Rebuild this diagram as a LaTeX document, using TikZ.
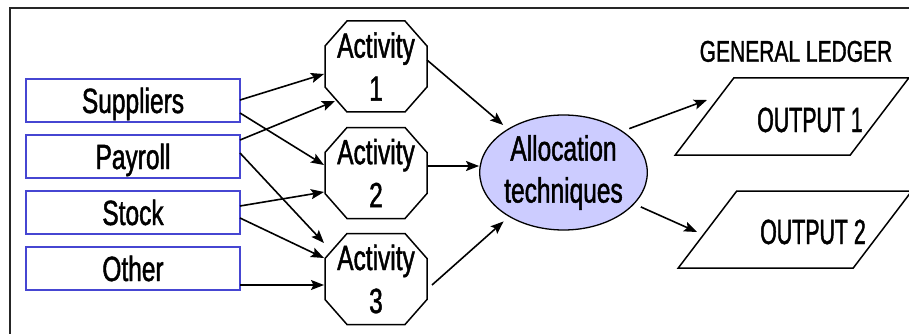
\documentclass[tikz,border=0pt]{standalone}
\usepackage{fontspec}
\setmainfont{Liberation Sans}[FakeStretch=0.7, FakeBold=1.3]
\newfontfamily\outfont{Liberation Sans}[FakeStretch=0.61, FakeBold=1.3]
\usetikzlibrary{arrows.meta,shapes.geometric,calc}

\definecolor{srcblue}{RGB}{70,70,210}
\definecolor{lavender}{RGB}{204,204,255}

\begin{document}
\begin{tikzpicture}[x=1pt,y=1pt,
  bigtext/.style={font=\fontsize{35}{43}\selectfont},
  srcbox/.style={draw=srcblue, line width=2pt, minimum width=214pt, minimum height=43pt,
    inner sep=0pt, outer sep=0pt, text height=25pt, text depth=0pt, bigtext},
  activity/.style={minimum width=102pt, minimum height=91pt, inner sep=0pt, outer sep=0pt,
    align=center, bigtext},
  octagon/.style={line width=1.5pt, line join=miter},
  alloc/.style={ellipse, draw, line width=1.3pt, fill=lavender, minimum width=167pt,
    minimum height=115pt, inner sep=0pt, align=center, font=\fontsize{35}{42}\selectfont},
  outbox/.style={minimum width=175pt, minimum height=77pt, inner sep=0pt, outer sep=0pt},
  outlabel/.style={inner sep=0pt, text height=25pt, text depth=0pt,
    font=\outfont\fontsize{35}{42}\selectfont},
  para/.style={line width=1.5pt, line join=miter},
  flow/.style={line width=1.6pt, -{Stealth[length=13pt,width=10pt,inset=2.5pt]}},
]
\useasboundingbox (0,0) rectangle (909,-334);
\begin{scope}
  \clip (0,0) rectangle (909,-334);
  % outer frame
  \draw[line width=1.6pt, black!85] (10,-8) rectangle (930,-360);
\end{scope}

% cost sources
\node[srcbox] (sup) at (133,-100.5) {Suppliers};
\node[srcbox] (pay) at (133,-156.5) {Payroll};
\node[srcbox] (sto) at (133,-212.5) {Stock};
\node[srcbox] (oth) at (133,-268.5) {Other};

% activities
\node[activity] (a1) at (376,-66.5) {Activity\\1};
\node[activity] (a2) at (376,-173) {Activity\\2};
\node[activity] (a3) at (376,-279) {Activity\\3};
\foreach \n in {a1,a2,a3}{
  \draw[octagon]
    ($(\n.north west)+(22,0)$) -- ($(\n.north east)+(-22,0)$) --
    ($(\n.north east)+(0,-25)$) -- ($(\n.south east)+(0,25)$) --
    ($(\n.south east)+(-22,0)$) -- ($(\n.south west)+(22,0)$) --
    ($(\n.south west)+(0,25)$) -- ($(\n.north west)+(0,-25)$) -- cycle;
}

% allocation
\node[alloc] (ell) at (563.5,-172.5) {Allocation\\techniques};

% outputs
\node[font=\fontsize{30}{36}\selectfont, inner sep=0pt, text height=21.5pt, text depth=0pt]
  (gl) at (796,-51) {GENERAL LEDGER};
\node[outbox] (o1) at (792,-116.5) {};
\node[outbox] (o2) at (795,-229.5) {};
\foreach \n in {o1,o2}{
  \draw[para]
    ($(\n.center)+(-58.25,38.5)$) -- ($(\n.center)+(116.75,38.5)$) --
    ($(\n.center)+(58.25,-38.5)$) -- ($(\n.center)+(-116.75,-38.5)$) -- cycle;
}
\node[outlabel] (t1) at (810,-119.5) {OUTPUT 1};
\node[outlabel] (t2) at (813,-231.5) {OUTPUT 2};

% sources to activities
\draw[flow] ([yshift=0.5pt]sup.east) -- ([shift={(-1pt,-7.5pt)}]a1.west);
\draw[flow] ([yshift=-12.5pt]sup.east) -- ([shift={(-1pt,8pt)}]a2.west);
\draw[flow] ([yshift=16.5pt]pay.east) -- ([shift={(-41pt,-34.5pt)}]a1.center);
\draw[flow] ([yshift=3.5pt]pay.east) -- ([shift={(-1pt,36pt)}]a3.west);
\draw[flow] ([yshift=6.5pt]sto.east) -- ([shift={(-1pt,-19pt)}]a2.west);
\draw[flow] ([yshift=-5.5pt]sto.east) -- ([shift={(-1pt,21pt)}]a3.west);
\draw[flow] ([yshift=-16.5pt]oth.east) -- ([shift={(-1pt,-16.5pt)}]oth.east -| a3.west);

% activities to allocation
\draw[flow, shorten >=6pt] ([yshift=6.5pt]a1.east) -- (ell.142);
\draw[flow] ([yshift=7pt]a2.east) -- ([yshift=7pt]a2.east -| ell.west);
\draw[flow, shorten >=7pt] ([shift={(5pt,-6pt)}]a3.east) -- (ell.219);

% allocation to ledger outputs
\draw[flow, shorten <=7pt] (ell.35) -- ([shift={(-85pt,16.5pt)}]o1.center);
\draw[flow, shorten <=7pt] (ell.-24) -- ([shift={(-98pt,-2.5pt)}]o2.center);
\end{tikzpicture}
\end{document}
